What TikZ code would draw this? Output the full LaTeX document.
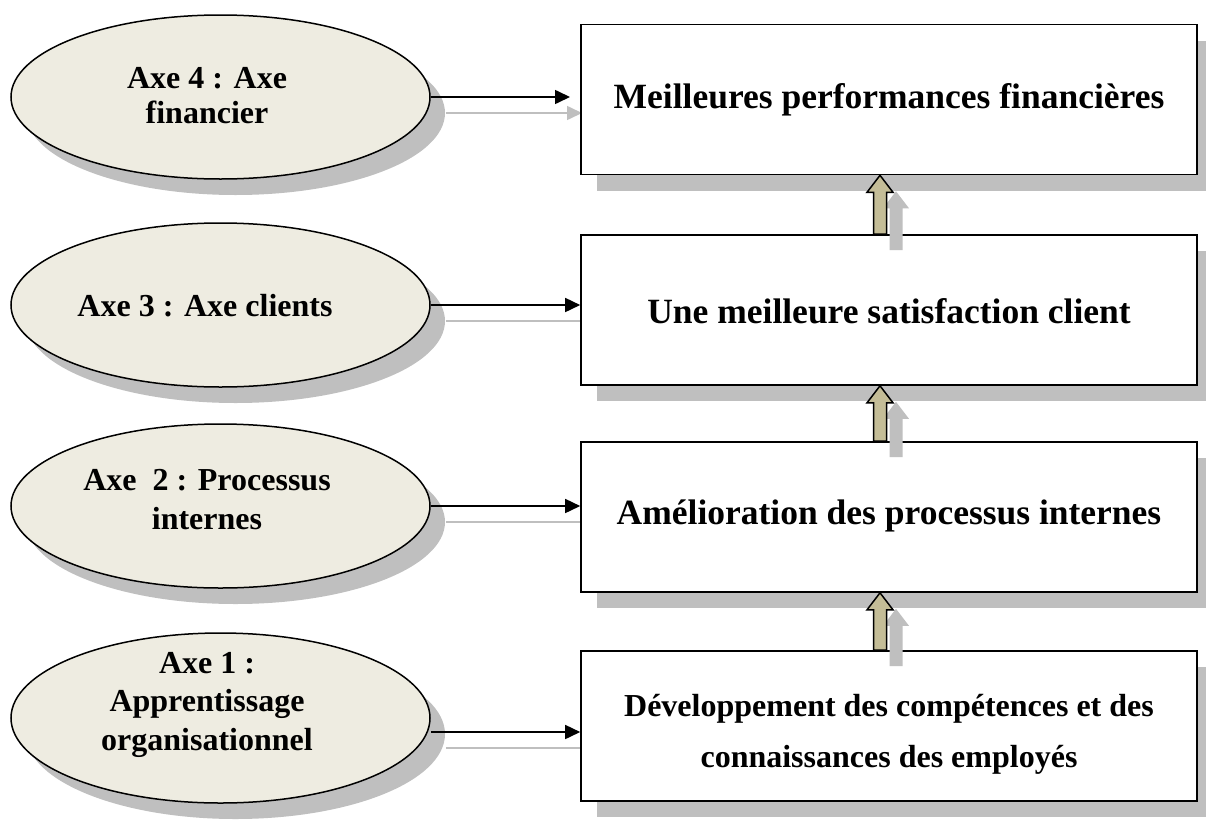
\documentclass[tikz,border=0pt]{standalone}
\usepackage{fontspec}
\setmainfont{Liberation Serif}
\usetikzlibrary{shapes.geometric,arrows.meta,shadows,calc}
\definecolor{ellfill}{HTML}{EEECE1}
\definecolor{shadowc}{HTML}{BFBFBF}
\definecolor{tanc}{HTML}{C4BD97}
\pgfdeclarelayer{bg}
\pgfsetlayers{bg,main}
\newcommand\blockarrow[4]{%
  \path[#3] let \p1=([shift={#4}]#1.south), \p2=([shift={#4}]#2.north) in
    (\x1-6.5pt,\y2) -- (\x1-6.5pt,\y1-17pt) -- (\x1-13pt,\y1-17pt) -- (\x1,\y1)
    -- (\x1+13pt,\y1-17pt) -- (\x1+6.5pt,\y1-17pt) -- (\x1+6.5pt,\y2) -- cycle;}
\tikzset{
  txt/.style={font=\fontsize{32}{30}\selectfont\bfseries, inner sep=0pt, anchor=base},
  bigtxt/.style={txt, font=\fontsize{35.5}{40}\selectfont\bfseries},
  ell/.style={ellipse, draw=black, line width=1.5pt, fill=ellfill,
    minimum width=419pt, minimum height=164pt, inner sep=0pt,
    drop shadow={shadow xshift=15pt, shadow yshift=-16pt, fill=shadowc, opacity=1}},
  boxnode/.style={rectangle, draw=black, line width=1.6pt, fill=white,
    minimum width=616pt, minimum height=150pt, inner sep=0pt,
    drop shadow={shadow xshift=16pt, shadow yshift=-16pt, fill=shadowc, opacity=1}},
  arr/.style={line width=1.6pt, -{Triangle[length=15pt,width=14pt]}},
  garr/.style={draw=shadowc, line width=1.6pt, -{Triangle[length=15pt,width=14pt]}},
  blk/.style={fill=tanc, draw=black, line width=1.5pt},
  blks/.style={fill=shadowc},
}
\begin{document}
\begin{tikzpicture}[x=1pt, y=-1pt]
\useasboundingbox (0,0) rectangle (1206,833);
\clip (0,0) rectangle (1206,833);

% ellipses
\node[ell] (e1) at (220.5,97) {};
\node[ell] (e2) at (220.5,305) {};
\node[ell] (e3) at (220.5,506) {};
\node[ell, minimum height=170pt] (e4) at (220.5,718) {};

% boxes
\node[boxnode] (b1) at (889,99.5) {};
\node[boxnode] (b2) at (889,310) {};
\node[boxnode] (b3) at (889,517) {};
\node[boxnode] (b4) at (889,726) {};

% ellipse texts
\node[txt] (l1a) at (207,88) {Axe 4 : Axe};
\node[txt] (l1b) at (207,123) {financier};
\node[txt] (l2a) at (205,316) {Axe 3 : Axe clients};
\node[txt] (l3a) at (207,490) {Axe~~2 : Processus};
\node[txt] (l3b) at (207,529) {internes};
\node[txt] (l4a) at (207,673) {Axe 1 :};
\node[txt] (l4b) at (207,711) {Apprentissage};
\node[txt] (l4c) at (207,750) {organisationnel};

% box texts
\node[bigtxt] (m1) at (889,108) {Meilleures performances financières};
\node[bigtxt] (m2) at (889,323) {Une meilleure satisfaction client};
\node[bigtxt] (m3) at (889,524) {Amélioration des processus internes};
\node[txt] (m4a) at (889,716) {Développement des compétences et des};
\node[txt] (m4b) at (889,767) {connaissances des employés};

% horizontal connectors
\coordinate (t1) at (570,97);
\coordinate (s4) at (e4.east);
\begin{pgfonlayer}{bg}
  \draw[garr] ($(e1.east)+(15pt,-16pt)$) -- ($(t1)+(12pt,-16pt)$);
  \draw[garr] ($(e2.east)+(15pt,-16pt)$) -- ($(e2.east -| b2.west)+(15pt,-16pt)$);
  \draw[garr] ($(e3.east)+(15pt,-16pt)$) -- ($(e3.east -| b3.west)+(15pt,-16pt)$);
  \draw[garr] ($(e4.east)+(15pt,-30pt)$) -- ($(e4.east -| b4.west)+(15pt,-30pt)$);
\end{pgfonlayer}
\draw[arr] (e1.east) -- (t1);
\draw[arr] (e2.east) -- (e2.east -| b2.west);
\draw[arr] (e3.east) -- (e3.east -| b3.west);
\draw[arr] ($(e4.east)+(0,-14pt)$) -- ($(e4.east -| b4.west)+(0,-14pt)$);

% block arrows (shadows then arrows)
\blockarrow{b1}{b2}{blks}{(7pt,-16pt)}
\blockarrow{b2}{b3}{blks}{(7pt,-16pt)}
\blockarrow{b3}{b4}{blks}{(7pt,-16pt)}
\blockarrow{b1}{b2}{blk}{(-9pt,0pt)}
\blockarrow{b2}{b3}{blk}{(-9pt,0pt)}
\blockarrow{b3}{b4}{blk}{(-9pt,0pt)}
\end{tikzpicture}
\end{document}
